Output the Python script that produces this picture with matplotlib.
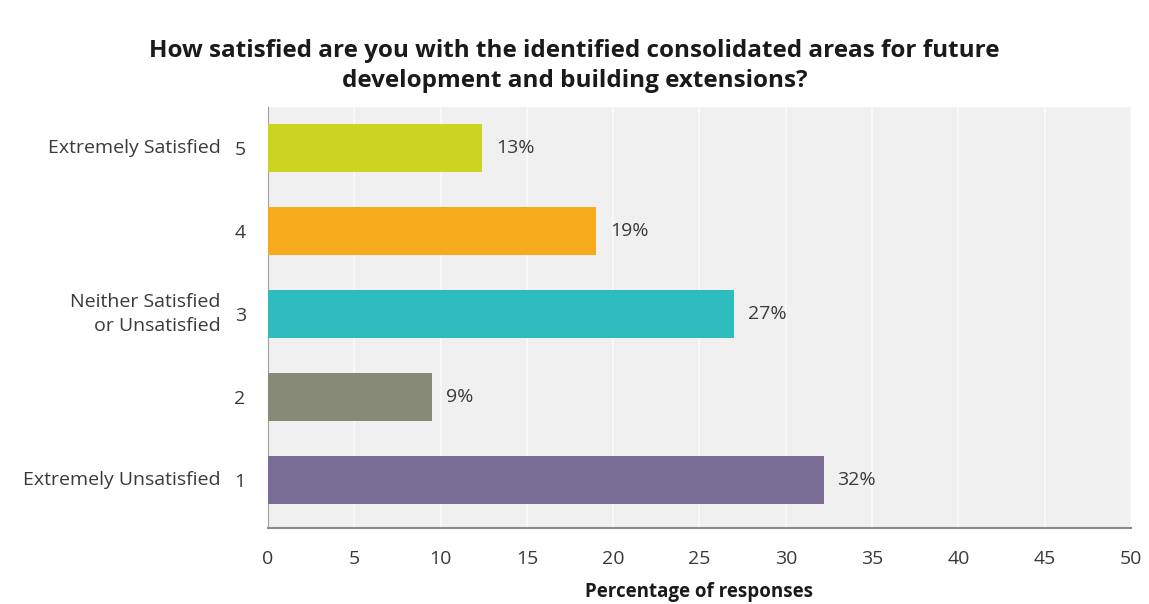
import matplotlib.pyplot as plt

# survey responses, bottom (1) to top (5)
levels = [1, 2, 3, 4, 5]
descriptions = ["Extremely Unsatisfied", "", "Neither Satisfied\nor Unsatisfied", "", "Extremely Satisfied"]
values = [32.2, 9.5, 27.0, 19.0, 12.4]
value_labels = ["32%", "9%", "27%", "19%", "13%"]
colors = ["#7a6e96", "#878a77", "#2fbcbf", "#f5ab1b", "#cdd321"]
xticks = [0, 5, 10, 15, 20, 25, 30, 35, 40, 45, 50]

plt.rcParams["font.family"] = ["Open Sans", "DejaVu Sans"]
text_color = "#3a3a3a"
fs = 14

fig = plt.figure(figsize=(11.49, 6.04), dpi=100)
ax = fig.add_axes([0.2332, 0.1258, 0.7511, 0.6970])
ax.set_facecolor("#f0f0f0")

ax.barh(levels, values, height=0.58, color=colors, zorder=3)
for y, v, lab in zip(levels, values, value_labels):
    ax.text(v + 0.8, y, lab, va="center", ha="left", fontsize=fs, color=text_color, zorder=4)

ax.set_xlim(0, 50)
ax.set_ylim(0.42, 5.5)
ax.set_xticks(xticks)
ax.set_yticks(levels)
ax.set_yticklabels([str(l) for l in levels])
ax.tick_params(axis="both", length=0, labelsize=fs, labelcolor=text_color)
ax.tick_params(axis="x", pad=16)
ax.tick_params(axis="y", pad=16)
ax.grid(axis="x", color="#fafafa", linewidth=1.2, zorder=1)

for s in ["top", "right"]:
    ax.spines[s].set_visible(False)
ax.spines["left"].set_color("#a0a0a0")
ax.spines["bottom"].set_color("#8a8a8a")
ax.spines["bottom"].set_linewidth(1.5)

# category descriptions left of the level numbers
for y, d in zip(levels, descriptions):
    if d:
        ax.annotate(d, xy=(0, y), xycoords=("axes fraction", "data"), xytext=(-47, 0),
                    textcoords="offset pixels", ha="right", va="center",
                    fontsize=fs, color=text_color, linespacing=1.4)

ax.set_xlabel("Percentage of responses", fontsize=13.5, fontweight="bold", color="#1a1a1a", labelpad=10)
fig.suptitle("How satisfied are you with the identified consolidated areas for future\n"
             "development and building extensions?",
             x=0.5, y=0.935, fontsize=17.5, fontweight="bold", color="#1a1a1a", linespacing=1.3)

fig.savefig("out.png", dpi=100)
